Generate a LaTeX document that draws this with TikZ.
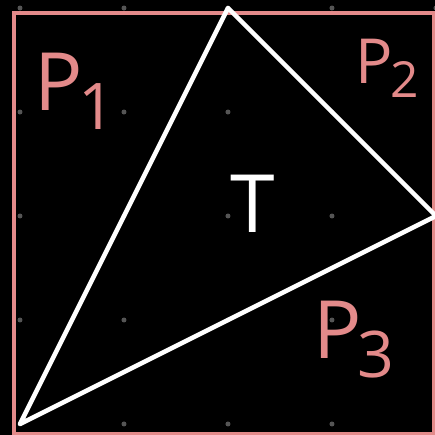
\documentclass[tikz,border=0pt]{standalone}
\usepackage{fontspec}
\setsansfont{Open Sans}
\definecolor{rose}{HTML}{E38A8A}
\definecolor{dotgrey}{HTML}{555555}
\newcommand{\regsub}[1]{\kern-0.05em\raisebox{-0.45ex}{\scalebox{0.8}{#1}}}

\begin{document}
\begin{tikzpicture}[
    region/.style={font=\sffamily\fontsize{22}{22}\selectfont,text=rose,inner sep=0pt},
    tri/.style={draw=white,line width=1.25pt,line join=round},
    frame/.style={draw=rose,line width=0.85pt},
    griddot/.style={fill=dotgrey,draw=none}
]
% page: black, grid spacing 1 unit
\fill[black] (-0.1923,-0.1058) rectangle (3.990,4.077);
\useasboundingbox (-0.1923,-0.1058) rectangle (3.990,4.077);
\foreach \i in {0,...,4}
  \foreach \j in {0,...,4}
    \fill[griddot] (\i,\j) circle (0.024);
\draw[frame] (-0.0577,-0.096) rectangle (3.981,3.952);

% triangle T
\coordinate (a) at (0,0);
\coordinate (b) at (2,4);
\coordinate (c) at (4,2);
\draw[tri] (a) -- (b) -- (c) -- cycle;

\node[region] (p1) at (0.53,3.20) {P\regsub{1}};
\node[region,font=\sffamily\fontsize{17}{17}\selectfont] (p2) at (3.53,3.42) {P\regsub{2}};
\node[region,font=\sffamily\fontsize{22}{22}\selectfont] (p3) at (3.21,0.81) {P\regsub{3}};
\node[region,text=white,font=\sffamily\fontsize{22}{22}\selectfont] (t) at (2.24,2.12) {T};
\end{tikzpicture}
\end{document}
